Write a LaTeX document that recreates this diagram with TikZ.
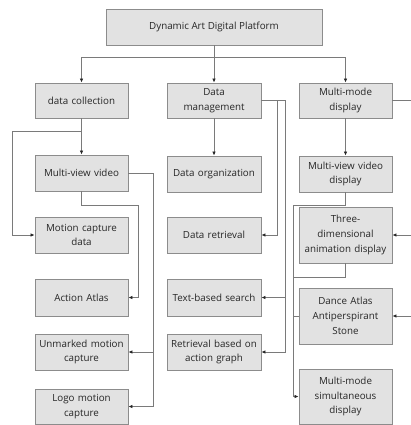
\documentclass[tikz,border=0pt]{standalone}
\usepackage{fontspec}
\setmainfont{Open Sans}
\usetikzlibrary{arrows.meta}
\definecolor{boxfill}{HTML}{E2E2E2}
\definecolor{boxline}{HTML}{8C8C8C}
\definecolor{conn}{HTML}{7A7A7A}
\tikzset{
  box/.style={draw=boxline, fill=boxfill, line width=0.9pt, inner sep=0.5pt, align=center,
    font=\fontsize{9.8}{14.8}\selectfont, text=black!85},
  conn/.style={draw=conn, line width=0.8pt},
  arr/.style={conn, -{Latex[length=4pt,width=3.6pt,fill=black!85,color=black!85]}},
}
\begin{document}
\begin{tikzpicture}[x=1pt,y=-1pt]
\useasboundingbox (0,0) rectangle (411,425);
% top
\node[box, minimum width=216pt, minimum height=36pt] (top) at (214,27) {Dynamic Art Digital Platform};
% level 2
\node[box, minimum width=93pt, minimum height=35pt, text width=92pt] (dc) at (81.5,100.5) {data collection};
\node[box, minimum width=94pt, minimum height=35pt, text width=92pt] (dm) at (214,100.5) {Data\\management};
\node[box, minimum width=93pt, minimum height=35pt, text width=92pt] (md) at (345.5,100.5) {Multi-mode\\display};
% left column
\node[box, minimum width=93pt, minimum height=36pt, text width=92pt] (mvv) at (81.5,173) {Multi-view video};
\node[box, minimum width=93pt, minimum height=36pt, text width=92pt] (mcd) at (81.5,235) {Motion capture\\data};
\node[box, minimum width=93pt, minimum height=37pt, text width=92pt] (aa) at (81.5,297.5) {Action Atlas};
\node[box, minimum width=93pt, minimum height=36pt, text width=92pt] (umc) at (81.5,352) {Unmarked motion\\capture};
\node[box, minimum width=93pt, minimum height=35pt, text width=92pt] (lmc) at (81.5,406.5) {Logo motion\\capture};
% middle column
\node[box, minimum width=94pt, minimum height=36pt, text width=93pt] (dorg) at (214,174) {Data organization};
\node[box, minimum width=94pt, minimum height=36pt, text width=93pt] (dret) at (214,235) {Data retrieval};
\node[box, minimum width=94pt, minimum height=37pt, text width=93pt] (tbs) at (214,297.5) {Text-based search};
\node[box, minimum width=94pt, minimum height=36pt, text width=93pt] (rag) at (214,352) {Retrieval based on\\action graph};
% right column
\node[box, minimum width=93pt, minimum height=36pt, text width=92pt] (mvvd) at (345.5,174) {Multi-view video\\display};
\node[box, minimum width=93pt, minimum height=56pt, text width=92pt] (tad) at (345.5,235) {Three-\\dimensional\\animation display};
\node[box, minimum width=93pt, minimum height=56pt, text width=92pt] (dance) at (345.5,316) {Dance Atlas\\Antiperspirant\\Stone};
\node[box, minimum width=93pt, minimum height=55pt, text width=92pt] (mmsd) at (345.5,396.5) {Multi-mode\\simultaneous\\display};
% coordinates
\coordinate (bus) at (214,57);
\coordinate (dcj) at (81.5,131);
\coordinate (dcl) at (12,131);
\coordinate (mvvr) at (153,173);
\coordinate (mvvj) at (81.5,205);
\coordinate (mvvk) at (138,205);
\coordinate (dmA) at (277,100.5);
\coordinate (dmB) at (285,100.5);
\coordinate (mdR) at (411,100.5);
\coordinate (rj) at (345.5,205);
\coordinate (rk) at (293,205);
\coordinate (tj) at (345.5,277);
\coordinate (tk) at (293,277);
\coordinate (inT) at (411,235);
\coordinate (inD) at (411,316);
% top connectors
\draw[arr] (top.south) -- (dm.north);
\draw[arr] (bus) -| (dc.north);
\draw[arr] (bus) -| (md.north);
% data collection
\draw[arr] (dc.south) -- (mvv.north);
\draw[arr] (dcj) -- (dcl) |- (mcd.west);
\draw[conn] (mvv.east) -- (mvvr);
\draw[arr] (mvvr) |- (lmc.east);
\draw[arr] (mvvr |- umc.east) -- (umc.east);
\draw[arr] (mvv.south) -- (mvvj) -- (mvvk) |- (aa.east);
% data management
\draw[arr] (dm.south) -- (dorg.north);
\draw[arr] (dm.east) -- (dmA) |- (dret.east);
\draw[arr] (dmA) -- (dmB) |- (rag.east);
\draw[arr] (dmB |- tbs.east) -- (tbs.east);
% multi-mode display
\draw[arr] (md.south) -- (mvvd.north);
\draw[conn] (md.east) -- (mdR);
\draw[arr] (mvvd.south) -- (rj) -- (rk) |- (mmsd.west);
\draw[conn] (tad.south) -- (tj) -- (tk);
\draw[conn] (rk |- dance.west) -- (dance.west);
\draw[arr] (inT) -- (tad.east);
\draw[arr] (inD) -- (dance.east);
\end{tikzpicture}
\end{document}
